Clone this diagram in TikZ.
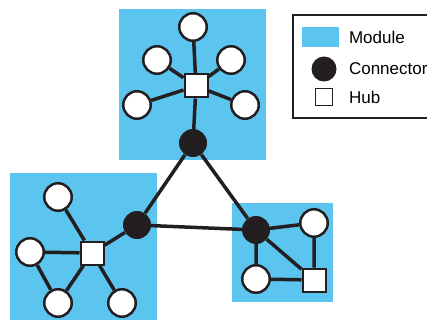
\documentclass[tikz,border=0pt]{standalone}
\usepackage{fontspec}
\setmainfont{Liberation Sans}
\usepackage{tikz}
\definecolor{modblue}{HTML}{5BC5F0}
\definecolor{conblack}{HTML}{231F20}
\def\topmodule{(119,9) rectangle (266,160)}
\def\leftmodule{(10,173) rectangle (157,322)}
\def\rightmodule{(232,203) rectangle (333,302)}
\tikzset{
  leaf/.style={circle,draw=conblack,fill=white,line width=2.5pt,minimum size=27.5pt,inner sep=0pt},
  hub/.style={rectangle,draw=conblack,fill=white,line width=2pt,minimum size=23pt,inner sep=0pt},
  conn/.style={circle,fill=conblack,minimum size=28pt,inner sep=0pt},
  link/.style={line width=3.5pt,draw=conblack},
  legtext/.style={anchor=west,font=\fontsize{17}{19}\selectfont}
}

\begin{document}
\begin{tikzpicture}[x=1pt,y=-1pt]
			\useasboundingbox (0,0) rectangle (427,320);
			\clip (0,0) rectangle (427,320);
			\fill[modblue] \topmodule;
			\fill[modblue] \leftmodule;
			\fill[modblue] \rightmodule;
			% top module
			\node[hub] (hubA) at (196,86) {};
			\node[leaf] (a1) at (193,27) {};
			\node[leaf] (a2) at (157,60) {};
			\node[leaf] (a3) at (231,60) {};
			\node[leaf] (a4) at (137,105) {};
			\node[leaf] (a5) at (245,105) {};
			\node[conn] (cA) at (193,143) {};
			% left module
			\node[hub] (hubB) at (92,253) {};
			\node[leaf] (b1) at (58,197) {};
			\node[leaf] (b2) at (30,252) {};
			\node[leaf] (b3) at (58,303) {};
			\node[leaf] (b4) at (122,303) {};
			\node[conn] (cB) at (137,225) {};
			% right module
			\node[hub] (hubC) at (314,280) {};
			\node[leaf] (c1) at (314,223) {};
			\node[leaf] (c2) at (256,279) {};
			\node[conn] (cC) at (256,230) {};
			\foreach \n in {a1,a2,a3,a4,a5,cA}
				\draw[link] (hubA) -- (\n);
			\foreach \n in {b1,b2,b3,b4,cB}
				\draw[link] (hubB) -- (\n);
			\draw[link] (b2) -- (b3);
			\draw[link] (cC) -- (c1) -- (hubC) -- (c2) -- (cC) -- (hubC);
			\draw[link] (cA) -- (cB) -- (cC) -- (cA);
			% legend
			\draw[line width=1.5pt,draw=conblack] (293,15) rectangle (440,118);
			\fill[modblue] (302,27) rectangle (339,47);
			\node[legtext] (tMod) at (345.5,37) {Module};
			\node[conn,minimum size=25pt] (kConn) at (324,69) {};
			\node[legtext] (tConn) at (345.5,69) {Connector};
			\node[hub,minimum size=17pt,line width=1.5pt] (kHub) at (324,97) {};
			\node[legtext] (tHub) at (345.5,97) {Hub};
		\end{tikzpicture}
\end{document}
